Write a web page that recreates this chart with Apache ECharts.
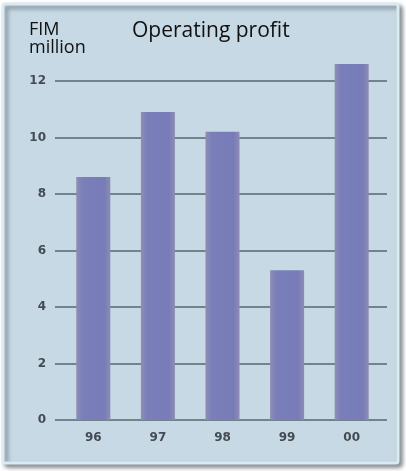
<!DOCTYPE html>
<html>
<head>
<meta charset="utf-8">
<script src="https://cdn.jsdelivr.net/npm/echarts@6/dist/echarts.min.js"></script>
<style>
  html, body { margin: 0; padding: 0; background: #ffffff; }
  #chart { width: 406px; height: 471px; }
</style>
</head>
<body>
<div id="chart"></div>
<script>
// Operating profit by year, FIM million
const years = ['96', '97', '98', '99', '00'];
const profit = [8.6, 10.9, 10.2, 5.3, 12.6];
const yTicks = [0, 2, 4, 6, 8, 10, 12];

const chart = echarts.init(document.getElementById('chart'), null, { renderer: 'canvas' });

const barFill = new echarts.graphic.LinearGradient(0, 0, 1, 0, [
  { offset: 0, color: '#8e8db4' },
  { offset: 0.18, color: '#7a7fba' },
  { offset: 0.82, color: '#777cb8' },
  { offset: 1, color: '#8d8cb2' }
]);

const tickFont = {
  color: '#434b53',
  fontSize: 12,
  fontWeight: 'bold',
  fontFamily: 'DejaVu Sans'
};

chart.setOption({
  animation: false,
  backgroundColor: '#ffffff',
  graphic: [
    {
      type: 'rect',
      z: -10,
      shape: { x: 3, y: 4, width: 395, height: 459, r: 2 },
      style: {
        fill: '#c6d9e4',
        stroke: '#dbe9f1',
        lineWidth: 3,
        shadowBlur: 4,
        shadowOffsetX: 3,
        shadowOffsetY: 3,
        shadowColor: 'rgba(90,100,110,0.75)'
      }
    },
    {
      type: 'text',
      left: 29,
      top: 21,
      style: {
        text: 'FIM\nmillion',
        font: '18px "Open Sans", sans-serif',
        lineHeight: 18,
        fill: '#111111'
      }
    },
    {
      type: 'text',
      left: 132,
      top: 21,
      style: {
        text: 'Operating profit',
        font: '21px "Open Sans", sans-serif',
        fill: '#111111'
      }
    }
  ],
  grid: [
    { left: 55, right: 19, top: 81, bottom: 51 },
    { left: 61, right: 22, top: 81, bottom: 51 }
  ],
  xAxis: [
    { gridIndex: 0, type: 'value', min: 0, max: 1, show: false },
    {
      gridIndex: 1,
      type: 'category',
      data: years,
      axisLine: { show: false },
      axisTick: { show: false },
      axisLabel: Object.assign({ margin: 12 }, tickFont)
    }
  ],
  yAxis: [
    {
      gridIndex: 0,
      type: 'value',
      min: yTicks[0],
      max: yTicks[yTicks.length - 1],
      interval: 2,
      axisLine: { show: false },
      axisTick: { show: false },
      axisLabel: Object.assign({ margin: 9 }, tickFont),
      splitLine: { show: true, lineStyle: { color: '#55666f', width: 1.5 } }
    },
    {
      gridIndex: 1,
      type: 'value',
      min: yTicks[0],
      max: yTicks[yTicks.length - 1],
      interval: 2,
      show: false,
      splitLine: { show: false }
    }
  ],
  series: [
    {
      type: 'bar',
      xAxisIndex: 1,
      yAxisIndex: 1,
      data: profit,
      barWidth: 34,
      clip: false,
      z: 3,
      itemStyle: { color: barFill }
    }
  ]
});
</script>
</body>
</html>
